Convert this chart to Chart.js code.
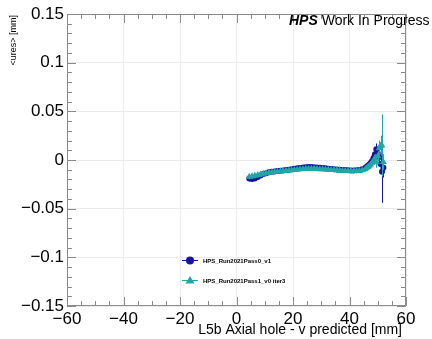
<!DOCTYPE html>
<html>
<head>
<meta charset="utf-8">
<script src="https://cdn.jsdelivr.net/npm/chart.js@4/dist/chart.umd.min.js"></script>
<style>
	html, body { margin: 0; padding: 0; background: #fff; }
	#wrap { width: 432px; height: 339px; position: relative; }
</style>
</head>
<body>
<div id="wrap"><canvas id="chart"></canvas></div>
<script>
// shared x bins [mm]
var xs = [4.5, 5.5, 6.5, 7.5, 8.5, 9.5, 10.5, 11.5, 12.5, 13.5, 14.5, 15.5, 16.5, 17.5,
	18.5, 19.5, 20.5, 21.5, 22.5, 23.5, 24.5, 25.5, 26.5, 27.5, 28.5, 29.5, 30.5, 31.5,
	32.5, 33.5, 34.5, 35.5, 36.5, 37.5, 38.5, 39.5, 40.5, 41.5, 42.5, 43.5, 44.5, 45.5,
	46, 46.5, 47, 47.5, 48, 48.5, 49, 49.5, 50, 50.5, 51, 51.5, 52];

// HPS_Run2021Pass0_v1
var pass0Y = [-0.019, -0.0195, -0.019, -0.0175, -0.016, -0.0145, -0.0135, -0.0125, -0.012, -0.0117,
	-0.0114, -0.011, -0.0107, -0.0103, -0.0099, -0.0095, -0.009, -0.0086, -0.0082, -0.0078,
	-0.0075, -0.0073, -0.0072, -0.0074, -0.0077, -0.008, -0.0083, -0.0086, -0.0089, -0.0092,
	-0.0095, -0.0098, -0.01, -0.0102, -0.0104, -0.0106, -0.0108, -0.0108, -0.0106, -0.0102,
	-0.0095, -0.0083, -0.0072, -0.006, -0.0045, -0.003, -0.001, 0.002, 0.006, 0.011,
	0.007, 0.003, -0.004, -0.012, -0.008];
var pass0Err = [0.003, 0.003, 0.0025, 0.0022, 0.002, 0.0018, 0.0017, 0.0016, 0.0015, 0.0015,
	0.0015, 0.0015, 0.0015, 0.0015, 0.0015, 0.0015, 0.0015, 0.0015, 0.0015, 0.0015,
	0.0015, 0.0015, 0.0015, 0.0015, 0.0015, 0.0015, 0.0015, 0.0015, 0.0015, 0.0015,
	0.0015, 0.0015, 0.0015, 0.0015, 0.0015, 0.0015, 0.0016, 0.0016, 0.0017, 0.0018,
	0.002, 0.0022, 0.0025, 0.0028, 0.003, 0.0032, 0.0035, 0.004, 0.004, 0.006,
	0.005, 0.006, 0.008, 0.032, 0.01];

// HPS_Run2021Pass1_v0 iter3
var pass1Y = [-0.0172, -0.0168, -0.0162, -0.0155, -0.0148, -0.0141, -0.0135, -0.013, -0.0126, -0.0123,
	-0.012, -0.0117, -0.0114, -0.0111, -0.0108, -0.0105, -0.0102, -0.0099, -0.0096, -0.0093,
	-0.0091, -0.009, -0.0089, -0.009, -0.0092, -0.0094, -0.0096, -0.0098, -0.01, -0.0102,
	-0.0104, -0.0106, -0.0108, -0.011, -0.0111, -0.0112, -0.0113, -0.0113, -0.0112, -0.011,
	-0.0105, -0.0095, -0.0085, -0.0073, -0.006, -0.0045, -0.0028, -0.0008, 0.002, -0.002,
	0.004, 0.012, 0.015, 0.015, -0.002];
var pass1Err = [0.0028, 0.0027, 0.0025, 0.0024, 0.0023, 0.0022, 0.0021, 0.002, 0.002, 0.002,
	0.002, 0.002, 0.002, 0.002, 0.002, 0.002, 0.002, 0.002, 0.002, 0.002,
	0.002, 0.002, 0.002, 0.002, 0.002, 0.002, 0.002, 0.002, 0.002, 0.002,
	0.002, 0.002, 0.002, 0.002, 0.002, 0.002, 0.002, 0.002, 0.002, 0.0021,
	0.0022, 0.0024, 0.0026, 0.0028, 0.003, 0.0032, 0.0035, 0.004, 0.004, 0.006,
	0.005, 0.008, 0.01, 0.032, 0.008];

var seriesNames = ["HPS_Run2021Pass0_v1", "HPS_Run2021Pass1_v0 iter3"];
var xTicks = [-60, -40, -20, 0, 20, 40, 60];
var yTicks = [-0.15, -0.1, -0.05, 0, 0.05, 0.1, 0.15];

var BLUE = '#16169a';
var TEAL = '#22a6a6';
var FONT = '"Liberation Sans", Arial, Helvetica, sans-serif';

function pts(ys, errs) {
	return xs.map(function(x, i) {
		return { x: x, y: ys[i], err: errs[i] };
	});
}

function fmt(v) {
	var s = String(parseFloat(v.toFixed(3)));
	return s.replace('-', '\u2212');
}

// draws the vertical error bars of a dataset just before its markers
var errorBars = {
	id: 'errorBars',
	beforeDatasetDraw: function(chart, args) {
		var ds = chart.data.datasets[args.index];
		var xScale = chart.scales.x, yScale = chart.scales.y;
		var ctx = chart.ctx;
		ctx.save();
		ctx.strokeStyle = ds.borderColor;
		ctx.lineWidth = 1;
		ctx.beginPath();
		ds.data.forEach(function(p) {
			var px = Math.round(xScale.getPixelForValue(p.x)) + 0.5;
			ctx.moveTo(px, yScale.getPixelForValue(p.y - p.err));
			ctx.lineTo(px, yScale.getPixelForValue(p.y + p.err));
		});
		ctx.stroke();
		ctx.restore();
	}
};

// ROOT-like frame with inner ticks on all four sides, titles and legend
var frame = {
	id: 'frame',
	afterDraw: function(chart) {
		var ctx = chart.ctx;
		var a = chart.chartArea;
		var xScale = chart.scales.x, yScale = chart.scales.y;
		ctx.save();
		ctx.strokeStyle = '#8a8a8a';
		ctx.lineWidth = 1;
		ctx.beginPath();
		ctx.rect(Math.round(a.left) + 0.5, Math.round(a.top) + 0.5,
			Math.round(a.right - a.left) - 1, Math.round(a.bottom - a.top) - 1);
		var v, p, len;
		for (v = -60; v <= 60; v += 5) {
			p = Math.round(xScale.getPixelForValue(v)) + 0.5;
			len = (v % 20 === 0) ? 9 : 5;
			ctx.moveTo(p, a.bottom); ctx.lineTo(p, a.bottom - len);
			ctx.moveTo(p, a.top); ctx.lineTo(p, a.top + len);
		}
		for (var i = -15; i <= 15; i++) {
			p = Math.round(yScale.getPixelForValue(i / 100)) + 0.5;
			len = (i % 5 === 0) ? 9 : 5;
			ctx.moveTo(a.left, p); ctx.lineTo(a.left + len, p);
			ctx.moveTo(a.right, p); ctx.lineTo(a.right - len, p);
		}
		ctx.stroke();

		// axis titles
		ctx.fillStyle = '#000';
		ctx.font = '14px ' + FONT;
		ctx.textAlign = 'right';
		ctx.textBaseline = 'alphabetic';
		ctx.fillText('L5b Axial hole - v predicted [mm]', 402, 334);

		ctx.save();
		ctx.translate(16, 15);
		ctx.rotate(-Math.PI / 2);
		ctx.font = '9px ' + FONT;
		ctx.textAlign = 'right';
		ctx.fillText('<ures> [mm]', 0, 0);
		ctx.restore();

		// label
		ctx.textAlign = 'left';
		ctx.font = 'italic bold 14px ' + FONT;
		ctx.fillText('HPS', 289, 25);
		var w = ctx.measureText('HPS ').width;
		ctx.font = '14px ' + FONT;
		ctx.fillText('Work In Progress', 289 + w, 25);

		// legend
		var rows = [
			{ y: 260, color: BLUE, shape: 'circle', text: seriesNames[0] },
			{ y: 280, color: TEAL, shape: 'triangle', text: seriesNames[1] }
		];
		rows.forEach(function(r) {
			ctx.strokeStyle = r.color;
			ctx.fillStyle = r.color;
			ctx.lineWidth = 1;
			ctx.beginPath();
			ctx.moveTo(182, r.y + 0.5);
			ctx.lineTo(198, r.y + 0.5);
			ctx.stroke();
			ctx.beginPath();
			if (r.shape === 'circle') {
				ctx.arc(190, r.y + 0.5, 4, 0, Math.PI * 2);
			} else {
				ctx.moveTo(190, r.y - 4);
				ctx.lineTo(194.5, r.y + 3.5);
				ctx.lineTo(185.5, r.y + 3.5);
				ctx.closePath();
			}
			ctx.fill();
			ctx.fillStyle = '#000';
			ctx.font = 'bold 6px ' + FONT;
			ctx.textBaseline = 'middle';
			ctx.fillText(r.text, 203, r.y + 1);
		});
		ctx.restore();
	}
};

new Chart(document.getElementById('chart'), {
	type: 'scatter',
	data: {
		datasets: [{
			label: seriesNames[0],
			data: pts(pass0Y, pass0Err),
			order: 2,
			borderColor: BLUE,
			backgroundColor: BLUE,
			pointStyle: 'circle',
			pointRadius: 3,
			pointBorderWidth: 0,
			showLine: false
		}, {
			label: seriesNames[1],
			data: pts(pass1Y, pass1Err),
			order: 1,
			borderColor: TEAL,
			backgroundColor: TEAL,
			pointStyle: 'triangle',
			pointRadius: 4,
			pointBorderWidth: 0,
			showLine: false
		}]
	},
	options: {
		responsive: true,
		maintainAspectRatio: false,
		animation: false,
		devicePixelRatio: 1,
		layout: { padding: { top: 14, right: 26, left: 0, bottom: 0 } },
		plugins: {
			legend: { display: false },
			tooltip: { enabled: false }
		},
		scales: {
			x: {
				type: 'linear',
				min: -60,
				max: 60,
				afterFit: function(scale) { scale.height = 33; },
				afterBuildTicks: function(scale) {
					scale.ticks = xTicks.map(function(v) { return { value: v }; });
				},
				border: { display: false },
				grid: { drawTicks: false, color: '#ececec', lineWidth: 1, borderDash: [1, 1] },
				ticks: {
					autoSkip: false,
					maxRotation: 0,
					padding: 3,
					color: '#000',
					font: { family: FONT, size: 17 },
					callback: fmt
				}
			},
			y: {
				type: 'linear',
				min: -0.15,
				max: 0.15,
				afterFit: function(scale) { scale.width = 67; },
				afterBuildTicks: function(scale) {
					scale.ticks = yTicks.map(function(v) { return { value: v }; });
				},
				border: { display: false },
				grid: { drawTicks: false, color: '#ececec', lineWidth: 1, borderDash: [1, 1] },
				ticks: {
					autoSkip: false,
					padding: 3,
					color: '#000',
					font: { family: FONT, size: 17 },
					callback: fmt
				}
			}
		}
	},
	plugins: [errorBars, frame]
});
</script>
</body>
</html>
